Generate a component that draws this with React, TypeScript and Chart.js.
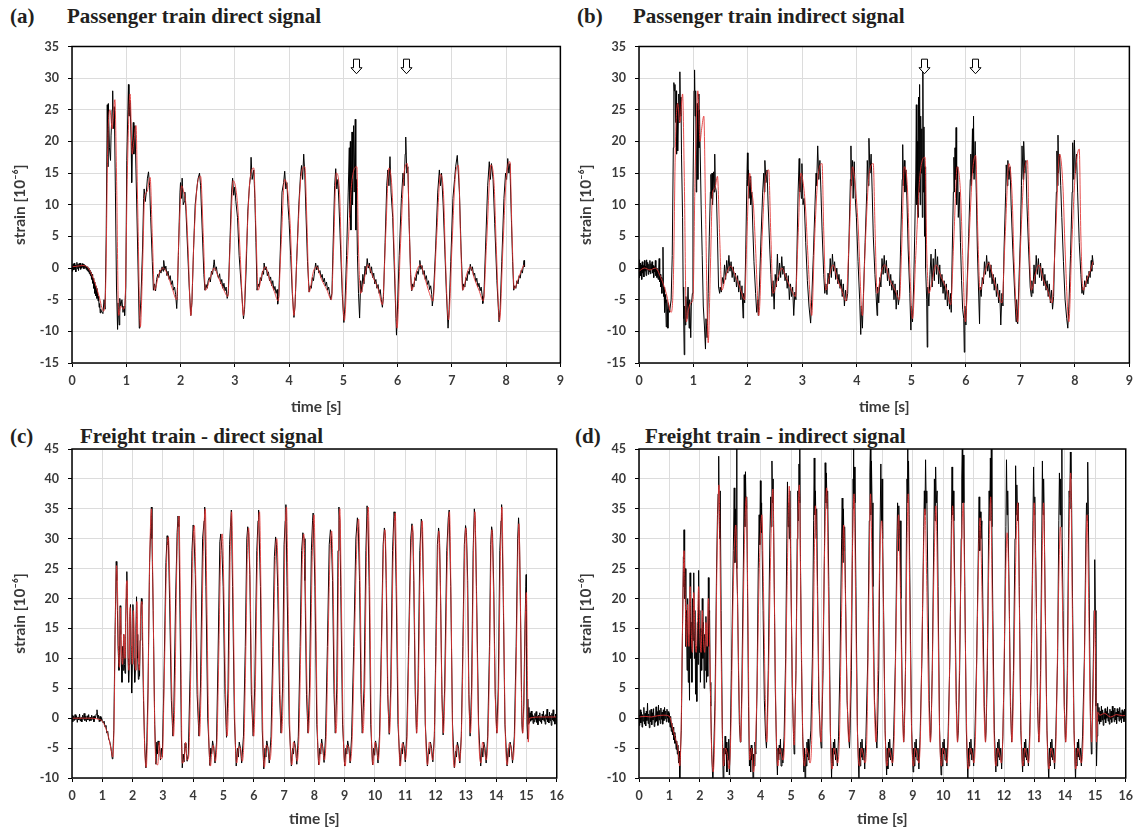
import React, { useEffect, useRef } from "react";
import { Chart, registerables } from "chart.js";

Chart.register(...registerables);

type Pt = [number, number];

// ---------- (a) Passenger train direct signal ----------
const aBlack: Pt[] = [
  [0,0.3],[0.01,-0.5],[0.02,0.6],[0.03,-0.3],[0.04,0.8],[0.05,-0.2],[0.06,0.5],[0.07,-0.6],[0.08,0.4],[0.09,0.9],[0.1,-0.1],[0.11,0.6],[0.12,-0.4],[0.13,0.7],[0.14,0.1],[0.15,0.8],[0.16,-0.2],[0.17,0.5],[0.18,0],[0.19,0.7],[0.2,0.2],[0.21,0.6],[0.22,-0.1],[0.23,0.5],[0.24,0.1],[0.25,0.4],[0.26,-0.2],[0.27,0.3],[0.28,-0.4],[0.29,0.2],[0.3,-0.6],[0.31,0],[0.32,-0.9],[0.33,-0.3],[0.34,-1.2],[0.35,-0.6],[0.36,-1.8],[0.37,-1],[0.38,-2.4],[0.39,-1.6],[0.4,-3.2],[0.41,-2.2],[0.42,-4],[0.43,-2.8],[0.44,-4.4],[0.45,-3.2],[0.46,-4.8],[0.47,-3.6],[0.48,-5.2],[0.49,-4.4],[0.5,-6.2],[0.51,-5.6],[0.52,-7.1],[0.53,-6.5],[0.54,-6.8],
  [0.57,-7.2],[0.59,-5],[0.61,-6.5],[0.63,5],[0.65,25.8],[0.66,16],[0.67,26],[0.69,19],[0.71,17],[0.72,21],[0.74,25],[0.75,28],[0.76,22],[0.78,25.5],[0.8,12],[0.82,-3],[0.84,-9.7],[0.85,-5.5],[0.87,-9],[0.88,-4.8],[0.9,-6],[0.92,-5],[0.94,-7],[0.96,-6],[0.97,-7.5],[0.99,-3],[1.01,17],[1.03,25],[1.04,29],[1.05,24],[1.07,26.5],[1.09,20],[1.1,13.5],[1.11,18],[1.13,23],[1.14,18],[1.16,22.5],[1.18,15],[1.21,3],[1.24,-9.5],[1.25,-8],[1.27,-5],[1.3,3],[1.32,11],[1.33,12.5],[1.35,10.5],[1.37,12],[1.39,14.2],[1.41,15.2],[1.43,13],[1.45,8],[1.48,1],[1.5,-3.5],[1.52,-2.5],[1.54,-3.6],
  [1.56,-1.8],[1.58,-1],[1.6,-1.5],[1.62,-0.3],[1.64,-0.8],[1.66,0.2],[1.68,-0.5],[1.69,1.2],[1.71,-0.3],[1.73,0.3],[1.75,-1.2],[1.77,-0.5],[1.79,-1.8],[1.81,-1.2],[1.83,-2.6],[1.85,-2],[1.87,-3.5],[1.89,-3],[1.91,-4.2],[1.93,-6.4],[1.94,-4.5],
  [1.96,2],[1.99,12],[2,13.5],[2.02,11],[2.03,14.2],[2.05,10],[2.07,10.5],[2.08,12],[2.1,9],[2.13,3],[2.16,-3],[2.19,-7.5],[2.21,-5.5],[2.24,3],[2.27,10],[2.3,12.5],[2.32,14],[2.35,15],[2.37,13],[2.4,6],[2.43,-1],[2.45,-3.5],[2.47,-2.6],
  [2.49,-3.2],[2.51,-2],[2.53,-1.5],[2.55,-2.2],[2.57,-0.5],[2.59,-1],[2.61,0.5],[2.62,1.3],[2.64,-0.4],[2.66,0.2],[2.68,-1],[2.7,-1.6],[2.72,-0.9],[2.74,-2.5],[2.76,-1.8],[2.78,-3.2],[2.8,-2.4],[2.82,-3.6],[2.84,-3],[2.86,-4.8],[2.88,-4],
  [2.91,4],[2.94,12],[2.96,14.2],[2.98,11.5],[3,12.8],[3.02,10.5],[3.05,8],[3.08,2],[3.12,-3],[3.16,-8],[3.18,-6.5],[3.21,0],[3.24,9],[3.27,13],[3.29,14.5],[3.3,17.5],[3.32,14],[3.35,15.5],[3.37,11],[3.39,4],[3.41,-3.5],[3.43,-2.5],
  [3.45,-3],[3.47,-1.5],[3.49,-2],[3.51,-0.5],[3.53,-1],[3.54,0.8],[3.56,-0.3],[3.58,0.2],[3.6,-1.2],[3.62,-0.6],[3.64,-2],[3.66,-1.4],[3.68,-2.8],[3.7,-2],[3.72,-3.5],[3.74,-2.9],[3.76,-4],[3.78,-3.4],[3.79,-5.7],[3.81,-4.5],
  [3.84,3],[3.87,12],[3.9,13.5],[3.92,15.3],[3.94,12.5],[3.96,13.5],[3.98,10],[4,7.5],[4.03,2],[4.06,-4],[4.09,-7.8],[4.11,-6],[4.14,1],[4.18,10],[4.21,14.5],[4.23,16.2],[4.25,14],[4.27,18],[4.29,15],[4.31,9],[4.34,1],[4.37,-3.8],[4.39,-2.8],
  [4.41,-3.2],[4.43,-1.5],[4.45,-2],[4.47,-0.6],[4.49,0.8],[4.51,-0.3],[4.53,0.4],[4.55,-0.8],[4.57,-0.4],[4.59,-1.5],[4.61,-1],[4.63,-2.2],[4.65,-1.6],[4.67,-2.8],[4.69,-2.2],[4.71,-3.5],[4.73,-3],[4.75,-4.2],[4.77,-5],[4.79,-4],
  [4.81,3],[4.84,13],[4.86,15.7],[4.88,12.5],[4.9,14],[4.92,10],[4.95,3],[4.98,-4],[5.01,-8.6],[5.03,-6],[5.06,2],[5.09,12],[5.11,19],[5.12,8],[5.13,20],[5.14,6],[5.16,21.5],[5.17,10],[5.19,22.5],[5.2,12],[5.22,23.5],[5.23,6],[5.24,14],[5.26,2],[5.28,-4],[5.3,-7.9],[5.32,-2],[5.34,-3.8],
  [5.36,-1],[5.38,-2.5],[5.4,0.3],[5.42,-1],[5.44,1.5],[5.46,0],[5.48,0.8],[5.5,-0.8],[5.52,0.2],[5.54,-1.5],[5.56,-0.8],[5.58,-2.5],[5.6,-1.8],[5.62,-3.2],[5.64,-2.6],[5.66,-4],[5.68,-3.4],[5.7,-5],[5.72,-6.2],[5.74,-4.5],
  [5.77,4],[5.8,13],[5.82,15.5],[5.84,13],[5.86,17.6],[5.88,12],[5.91,8],[5.94,0],[5.97,-8],[5.98,-10.6],[6,-6],[6.03,2],[6.07,11],[6.1,15],[6.12,13],[6.14,18],[6.15,20.7],[6.17,15],[6.19,16],[6.21,8],[6.24,-1],[6.26,-3.6],[6.28,-2.5],
  [6.3,-3],[6.32,-1.5],[6.34,-2],[6.36,-0.5],[6.38,-1],[6.4,0.2],[6.41,1.2],[6.43,-0.2],[6.45,0.4],[6.47,-1],[6.49,-0.4],[6.51,-1.8],[6.53,-1.2],[6.55,-2.6],[6.57,-2],[6.59,-3.4],[6.61,-2.8],[6.63,-4.2],[6.64,-6],[6.66,-4.5],
  [6.7,3],[6.74,12],[6.77,15.5],[6.79,13],[6.81,15],[6.84,10],[6.87,3],[6.9,-4],[6.93,-9.5],[6.95,-6.5],[6.98,1],[7.02,11],[7.05,14],[7.07,16],[7.1,17.8],[7.12,15],[7.14,12],[7.17,3],[7.2,-3.5],[7.22,-2.5],
  [7.24,-3],[7.26,-1.5],[7.28,-2],[7.3,-0.5],[7.32,-1],[7.34,0.6],[7.36,-0.4],[7.38,0.2],[7.4,-1.2],[7.42,-0.8],[7.44,-2.2],[7.46,-1.6],[7.48,-3],[7.5,-2.4],[7.52,-3.6],[7.54,-3],[7.56,-4.4],[7.57,-5.6],[7.59,-4.5],
  [7.62,3],[7.66,13],[7.69,16.8],[7.71,14],[7.73,16.5],[7.76,14],[7.79,7],[7.83,-2],[7.87,-8.5],[7.89,-6.5],[7.92,1],[7.96,11],[7.99,15],[8.01,14],[8.03,17.3],[8.05,15],[8.07,16.5],[8.09,10],[8.12,1],[8.14,-3.5],[8.16,-2.8],[8.18,-3.2],[8.2,-2],[8.22,-2.5],[8.24,-1.2],[8.26,-1.6],[8.28,-0.3],[8.3,-0.8],[8.32,0.5],[8.33,1.2],[8.34,0.2],
];
const aRed: Pt[] = [
  [0,0.2],[0.1,0.3],[0.2,0.4],[0.3,0],[0.4,-1.8],[0.5,-4.5],[0.58,-6.8],[0.62,-3],[0.66,20],[0.7,25],[0.74,22],[0.79,26.6],[0.82,15],[0.86,-7.5],[0.9,-6],[0.95,-6.5],[0.98,-5],[1.02,15],[1.07,27.5],[1.11,18],[1.14,20],[1.18,22.5],[1.21,10],[1.26,-9.3],[1.3,0],[1.34,11.5],[1.38,12],[1.44,14.3],[1.48,5],[1.52,-3.5],[1.6,-1],[1.68,0],[1.76,-1],[1.85,-3.3],[1.93,-5],[1.97,5],[2.02,13],[2.06,12],[2.1,10],[2.14,3],[2.19,-7.5],[2.25,5],[2.3,12.5],[2.37,14.5],[2.42,5],[2.46,-3.5],[2.55,-1.5],[2.62,0],[2.7,-1.5],[2.8,-3.5],[2.87,-4.5],[2.92,5],[2.97,13.8],[3.02,12.5],[3.06,9],[3.1,2],[3.16,-7.5],[3.22,4],[3.28,14],[3.35,15.8],[3.39,6],[3.43,-3.5],[3.5,-1],[3.56,0.2],[3.65,-2],[3.72,-3.5],[3.8,-5.2],[3.85,3],[3.92,14],[3.97,12.5],[4.02,7],[4.09,-7.5],[4.15,3],[4.22,14.5],[4.29,16],[4.33,7],[4.37,-3.8],[4.45,-0.5],[4.51,0.2],[4.6,-1.8],[4.7,-3.5],[4.78,-5],[4.82,3],[4.87,15],[4.93,12],[4.97,0],[5.02,-8.3],[5.08,2],[5.15,13],[5.25,16],[5.28,3],[5.32,-4],[5.38,-2],[5.45,0.5],[5.55,-1.5],[5.65,-3.5],[5.72,-5.8],[5.78,5],[5.84,15.8],[5.9,12],[5.94,2],[5.99,-9.5],[6.05,3],[6.12,15],[6.18,16.5],[6.22,5],[6.26,-3.5],[6.35,-0.5],[6.42,0.5],[6.5,-1.5],[6.58,-3.8],[6.65,-5.2],[6.72,5],[6.79,14.8],[6.85,11],[6.88,2],[6.94,-8.2],[7,3],[7.06,14],[7.12,16.2],[7.16,5],[7.2,-3.5],[7.28,-0.8],[7.34,0.2],[7.42,-1.8],[7.5,-3.5],[7.58,-5.2],[7.64,4],[7.72,16.3],[7.78,13],[7.82,3],[7.88,-8.3],[7.94,3],[8,14],[8.07,16.8],[8.11,5],[8.15,-3.3],[8.22,-1.8],[8.3,0],[8.33,0.5],
];
const aArrows = [5.23, 6.16];

// ---------- (b) Passenger train indirect signal ----------
const bBlack: Pt[] = [
  [0,1.3],[0.01,-1.5],[0.02,0.8],[0.03,-1.2],[0.04,0.5],[0.05,-1.8],[0.06,1],[0.07,-0.8],[0.08,0.4],[0.09,-1.4],[0.1,1.2],[0.11,-0.5],[0.12,0.3],[0.13,-1.2],[0.14,1.3],[0.15,-0.3],[0.16,0.9],[0.17,-1],[0.18,0.6],[0.19,-0.6],[0.2,1.2],[0.21,-0.9],[0.22,0.7],[0.23,-0.2],[0.24,1],[0.25,-0.8],[0.26,0.4],[0.27,-1.5],[0.28,0.2],[0.29,-0.6],[0.3,1.2],[0.31,-1.2],[0.32,0],[0.33,-1.5],[0.34,-0.3],[0.35,-1.8],[0.36,-0.6],[0.37,1.5],[0.38,-2.2],[0.39,-1],[0.4,-3],[0.41,-1.5],[0.42,-4],[0.43,-2],[0.44,3.3],[0.45,-4.5],[0.46,-3],[0.47,-7],[0.48,-4.2],[0.49,-5.5],[0.5,-9.3],[0.51,-5],[0.52,-6.5],[0.53,-9.5],[0.54,-5.5],[0.56,-7],
  [0.59,-5],[0.61,2],[0.63,19],[0.64,29.3],[0.65,28],[0.66,29],[0.67,23],[0.68,28],[0.69,18],[0.7,26],[0.71,18.5],[0.72,23],[0.73,27.5],[0.74,23],[0.75,31],[0.76,24],[0.77,27],[0.78,18],[0.8,8],[0.81,-3],[0.82,-8],[0.83,-13.7],[0.84,-6],[0.85,-9],[0.86,-4.5],[0.88,-8],[0.9,-3],[0.92,-9.5],[0.93,-5],[0.95,-11],[0.96,-6],[0.98,-4],[0.99,12],[1,20],[1.01,28],[1.02,31.3],[1.03,24],[1.04,28],[1.05,12],[1.06,18],[1.07,26],[1.08,14],[1.09,27.5],[1.1,19],[1.11,25],[1.12,20],[1.14,10],[1.16,2],[1.18,-6],[1.2,-9],[1.22,-12.8],[1.23,-8],[1.25,-11],[1.27,-4],[1.29,5],[1.31,12],[1.32,14.8],[1.33,11],[1.34,15],[1.35,10],[1.37,15.2],[1.38,12],[1.39,18],[1.4,13],[1.42,12],[1.44,5],[1.46,-3],[1.48,-4],[1.49,-3],
  [1.51,-3.8],[1.53,-1.5],[1.55,-2.5],[1.57,0.5],[1.59,-1.8],[1.61,1.2],[1.63,-0.8],[1.65,2],[1.67,-0.5],[1.69,1],[1.71,-1.5],[1.73,0.2],[1.75,-2.2],[1.77,-0.8],[1.79,-3],[1.81,-1.2],[1.83,-3.8],[1.85,-2],[1.87,-5],[1.89,-2.8],[1.91,-7.9],[1.92,-4],[1.94,-5.5],
  [1.96,3],[1.98,14],[1.99,18.2],[2,13],[2.01,15.5],[2.02,11],[2.04,14.5],[2.05,10],[2.07,12],[2.09,6],[2.11,1],[2.14,-4],[2.16,-7],[2.18,-5],[2.19,-7.5],[2.21,-3],[2.24,5],[2.27,12],[2.29,15],[2.3,12],[2.31,17],[2.33,13.5],[2.35,15.5],[2.37,10],[2.4,3],[2.42,-1],[2.44,-4.5],[2.46,-2],
  [2.48,-6.5],[2.5,-1],[2.52,-3],[2.54,2.2],[2.56,-2],[2.58,0.8],[2.6,-1.5],[2.62,1.8],[2.64,-1],[2.66,0.3],[2.68,-2],[2.7,-0.8],[2.72,-3.2],[2.74,-1.2],[2.76,-5],[2.78,-2.5],[2.8,-4.5],[2.82,-3],[2.84,-7.5],[2.86,-3.8],[2.88,-5],
  [2.9,3],[2.92,12],[2.94,17.3],[2.95,12],[2.96,14.5],[2.98,11],[2.99,16.5],[3.01,10],[3.03,11],[3.06,4],[3.09,-2],[3.12,-6],[3.15,-8.7],[3.17,-5],[3.2,2],[3.23,10],[3.25,15],[3.26,13],[3.28,19.3],[3.3,14],[3.32,17],[3.34,12],[3.36,6],[3.39,-1],[3.41,-4],[3.43,-2.5],
  [3.45,-4.2],[3.47,-0.8],[3.49,-2.5],[3.51,1.5],[3.53,-1.5],[3.55,2.2],[3.57,-0.5],[3.59,1],[3.61,-1.8],[3.63,0],[3.65,-2.5],[3.67,-1],[3.69,-3.2],[3.71,-1.8],[3.73,-4.5],[3.75,-2.5],[3.77,-6],[3.79,-3.5],[3.81,-5.2],[3.83,-4],
  [3.85,3],[3.88,14],[3.89,19.3],[3.9,13],[3.92,17],[3.93,11],[3.95,16.8],[3.97,11],[3.99,8],[4.02,1],[4.05,-5],[4.07,-10.5],[4.08,-6],[4.1,-9.5],[4.12,-4],[4.15,4],[4.18,12],[4.19,17],[4.21,13],[4.22,20.5],[4.24,15],[4.26,18],[4.28,12],[4.3,5],[4.33,-1],[4.35,-4],[4.37,-7.5],[4.38,-3],
  [4.4,-5.5],[4.42,-1.5],[4.44,-3],[4.46,1.5],[4.48,-1],[4.5,2],[4.52,-0.8],[4.54,1.2],[4.56,-2],[4.58,0],[4.6,-2.8],[4.62,-1],[4.64,-3.5],[4.66,-2],[4.68,-5],[4.7,-2.5],[4.72,-6.5],[4.74,-3.5],[4.76,-5.8],[4.78,-4.5],
  [4.8,3],[4.83,14],[4.84,19.5],[4.85,13],[4.87,17],[4.88,12],[4.9,15.5],[4.92,10],[4.94,3],[4.97,-4],[4.99,-9.8],[5,-6],[5.02,-8.5],[5.04,-3],[5.06,5],[5.08,15],[5.09,25.8],[5.1,10],[5.11,20],[5.12,8],[5.13,27],[5.14,12],[5.15,29],[5.16,10],[5.17,24],[5.18,15],[5.19,22],[5.2,8],[5.21,31],[5.22,12],[5.23,22.3],[5.24,5],[5.25,16],[5.26,0],[5.28,-5],[5.29,-12.5],[5.3,-3],[5.32,-6],
  [5.34,-1],[5.36,2.2],[5.38,-3],[5.4,1.5],[5.42,-2],[5.44,3],[5.46,-1],[5.48,1.8],[5.5,-2.5],[5.52,0.5],[5.54,-3],[5.56,-1],[5.58,-4],[5.6,-2],[5.62,-5],[5.64,-2.5],[5.66,-6],[5.68,-3.5],[5.7,-6.5],[5.72,-4],[5.73,-7],
  [5.75,3],[5.77,12],[5.78,17.5],[5.79,12],[5.8,19],[5.81,14],[5.82,22.2],[5.83,10],[5.85,16],[5.86,8],[5.88,12],[5.9,4],[5.92,-2],[5.94,-6.5],[5.96,-8],[5.97,-13.3],[5.98,-6],[6,-9],[6.02,-3],[6.05,5],[6.08,14],[6.09,18],[6.1,13],[6.12,22],[6.13,15],[6.14,24],[6.15,14],[6.17,20],[6.19,12],[6.21,3],[6.23,-3],[6.25,-8.8],[6.26,-3],
  [6.28,-4.5],[6.3,-1.5],[6.32,-2.5],[6.34,1],[6.36,-1],[6.38,2],[6.4,-0.5],[6.42,1],[6.44,-1.5],[6.46,0.5],[6.48,-2.5],[6.5,-1],[6.52,-3.5],[6.54,-1.5],[6.56,-4.5],[6.58,-2.5],[6.6,-5.5],[6.62,-3.5],[6.64,-9],[6.66,-4],[6.68,-6],
  [6.7,3],[6.73,12],[6.74,16.3],[6.76,13],[6.77,17],[6.79,14],[6.81,16],[6.83,10],[6.86,3],[6.89,-3],[6.92,-8.5],[6.93,-5],[6.95,-8.8],[6.97,-3],[7,5],[7.02,13],[7.03,19.3],[7.05,14],[7.06,20],[7.08,15],[7.1,17],[7.12,10],[7.15,3],[7.18,-3],[7.2,-4.5],[7.21,-2],
  [7.23,-4],[7.25,0.5],[7.27,-2.5],[7.29,2],[7.31,-1],[7.33,1.5],[7.35,-1.5],[7.37,0.8],[7.39,-2],[7.41,0],[7.43,-2.8],[7.45,-1],[7.47,-3.5],[7.49,-2],[7.51,-4.5],[7.53,-2.5],[7.55,-5.5],[7.57,-3.5],[7.59,-6.5],[7.61,-4.5],
  [7.63,3],[7.66,12],[7.67,18.5],[7.68,13],[7.69,21],[7.7,15],[7.72,18],[7.74,13],[7.76,8],[7.79,1],[7.82,-5],[7.85,-8],[7.87,-9.5],[7.89,-6],[7.92,2],[7.95,12],[7.96,19.8],[7.98,14],[7.99,20.2],[8.01,15],[8.03,18],[8.05,12],[8.08,4],[8.11,-1],[8.13,-4],[8.14,-3],[8.16,-4.2],[8.18,-2],[8.2,-3],[8.22,-1.2],[8.24,-2.5],[8.26,-0.5],[8.28,-1.5],[8.3,1.2],[8.31,-0.5],[8.32,2],[8.34,0.5],
];
const bRed: Pt[] = [
  [0,-0.5],[0.1,0],[0.2,-0.3],[0.3,0],[0.4,-1.5],[0.5,-4],[0.59,-7],[0.63,-2],[0.67,20],[0.71,26],[0.75,23],[0.8,27.5],[0.83,15],[0.87,-8.5],[0.91,-6.5],[0.95,-5.5],[0.99,-5],[1.03,15],[1.08,28],[1.12,20],[1.15,22],[1.19,24],[1.22,10],[1.27,-11.8],[1.31,0],[1.35,12],[1.39,12.5],[1.44,14.5],[1.48,5],[1.52,-3.5],[1.6,-1],[1.68,0.3],[1.76,-1],[1.85,-3],[1.94,-5],[1.98,5],[2.03,15],[2.07,12],[2.1,10],[2.14,3],[2.2,-7.5],[2.26,5],[2.31,13],[2.38,15.5],[2.42,5],[2.46,-4],[2.55,-1.5],[2.62,0],[2.7,-1.5],[2.8,-3.5],[2.87,-4.5],[2.92,5],[2.97,15],[3.02,13],[3.06,9],[3.1,2],[3.17,-7.5],[3.22,4],[3.28,14],[3.36,16.5],[3.39,6],[3.43,-3.5],[3.5,-1],[3.56,0.5],[3.65,-2],[3.72,-3.5],[3.8,-5.2],[3.85,3],[3.92,16],[3.97,13],[4.02,7],[4.1,-7.5],[4.15,3],[4.22,14.5],[4.3,16.5],[4.33,7],[4.37,-4],[4.45,-0.5],[4.51,0.5],[4.6,-1.8],[4.7,-3.5],[4.78,-5],[4.82,3],[4.87,16],[4.93,12],[4.97,0],[5.02,-8],[5.08,2],[5.15,14],[5.25,17.5],[5.28,3],[5.32,-4],[5.38,-2],[5.45,0.5],[5.55,-1.5],[5.65,-3.5],[5.72,-5.8],[5.78,5],[5.84,16],[5.9,12],[5.94,2],[5.99,-8.5],[6.05,3],[6.12,15],[6.18,17.8],[6.22,5],[6.26,-3.5],[6.35,-0.5],[6.42,0.8],[6.5,-1.5],[6.58,-3.8],[6.66,-5.5],[6.72,5],[6.79,16.5],[6.85,11],[6.88,2],[6.95,-8.5],[7,3],[7.06,14],[7.13,17],[7.16,5],[7.2,-3.5],[7.28,-0.8],[7.34,0.5],[7.42,-1.8],[7.5,-3.5],[7.58,-5.5],[7.64,4],[7.72,18],[7.78,13],[7.82,3],[7.89,-8.5],[7.94,3],[8,14],[8.08,18.8],[8.11,5],[8.15,-3.5],[8.22,-1.8],[8.3,0],[8.33,1],
];
const bArrows = [5.23, 6.16];

// ---------- (c) Freight train - direct signal ----------
const cBlack: Pt[] = [
  [0,0.5],[0.025,-0.6],[0.05,0.3],[0.075,-0.4],[0.1,0.6],[0.125,-0.2],[0.15,0.4],[0.175,-0.7],[0.2,0.2],[0.225,-0.3],[0.25,0.7],[0.275,-0.5],[0.3,0.1],[0.325,-0.6],[0.35,0.5],[0.375,-0.2],[0.4,0.8],[0.425,-0.4],[0.45,0.3],[0.475,-0.6],[0.5,0.4],[0.525,-0.3],[0.55,0.6],[0.575,-0.5],[0.6,0.2],[0.625,-0.4],[0.65,0.5],[0.675,-0.2],[0.7,0.3],[0.725,-0.6],[0.75,0.4],[0.775,0],[0.8,0.7],[0.825,1.4],[0.85,-0.1],[0.875,0.5],[0.9,-0.6],[0.925,0.3],[0.95,-0.5],[0.975,0.1],[1,-0.4],[1.03,-0.8],[1.06,-0.5],[1.09,-1.5],[1.12,-1.2],[1.15,-2.5],[1.18,-2.2],[1.21,-3.5],[1.24,-3.8],[1.27,-4.5],[1.3,-5.5],[1.33,-6.8],[1.35,-6],
  [1.38,-2],[1.42,14],[1.46,26.2],[1.48,23],[1.5,18],[1.52,12],[1.55,8],[1.57,11],[1.59,18.8],[1.61,14],[1.63,9],[1.65,6],[1.67,12],[1.69,8],[1.71,14],[1.73,9],[1.75,7.5],[1.77,16],[1.79,20],[1.81,24.5],[1.83,18],[1.85,10],[1.87,6],[1.89,9],[1.91,17],[1.93,19],[1.95,12],[1.97,4.2],[1.99,9],[2.01,19],[2.03,17],[2.05,10],[2.07,6],[2.09,8],[2.11,15],[2.13,20.3],[2.15,14],[2.17,10],[2.19,6.5],[2.21,9],[2.23,7],[2.25,13],[2.27,17],[2.29,20],[2.31,19],[2.33,12],[2.36,3],[2.4,-5],[2.44,-8.3],[2.47,-4],[2.51,5],[2.56,26],[2.6,32],[2.62,35.3],[2.64,30],[2.68,18],[2.73,-1],[2.77,-7.7],[2.8,-4],[2.82,-6],[2.84,-3.8],[2.87,-4.5],[2.9,-5.5],[2.92,-7],[2.95,-5],[2.98,-6.5],
  [3.03,5],[3.1,26],[3.14,30.5],[3.16,29],[3.18,30.3],[3.22,20],[3.28,3],[3.33,-3],[3.36,1],[3.42,20],[3.47,31],[3.5,33.8],[3.53,32],[3.57,15],[3.61,-3],[3.64,-8.3],[3.67,-6],[3.7,-7.3],[3.73,-4.2],[3.76,-5],[3.8,-7.2],[3.84,-6],
  [3.9,8],[3.96,28],[4,32.3],[4.03,30],[4.07,24],[4.13,4],[4.19,-3],[4.24,5],[4.31,30],[4.36,33],[4.38,35.3],[4.42,22],[4.48,0],[4.55,-7.9],[4.58,-5],[4.61,-6],[4.64,-3.8],[4.68,-5],[4.72,-7.5],[4.77,-4],
  [4.82,10],[4.88,29.5],[4.91,30.8],[4.95,28],[4.99,22],[5.05,4],[5.1,-3.2],[5.15,5],[5.2,29],[5.23,32],[5.26,34.8],[5.3,22],[5.36,0],[5.42,-8],[5.46,-5],[5.49,-6.5],[5.52,-4],[5.56,-5],[5.6,-7.5],[5.66,-3],
  [5.72,12],[5.77,30],[5.8,32],[5.83,31],[5.87,24],[5.92,4],[5.98,-3],[6.03,5],[6.1,28],[6.14,33],[6.16,34.8],[6.22,22],[6.28,-2],[6.33,-8.5],[6.37,-5],[6.4,-6.5],[6.43,-3.8],[6.47,-5],[6.51,-7.5],[6.57,-3],
  [6.63,12],[6.68,27],[6.72,30.3],[6.75,29],[6.79,22],[6.85,4],[6.9,-2.5],[6.95,5],[7,29],[7.04,33],[7.06,35.7],[7.1,22],[7.17,-1],[7.24,-8],[7.28,-5],[7.31,-6],[7.34,-3.8],[7.38,-5],[7.42,-7.7],[7.47,-3],
  [7.53,12],[7.58,28],[7.62,31],[7.66,30],[7.69,23],[7.74,4],[7.79,-2.5],[7.84,5],[7.9,28],[7.94,33],[7.96,34.3],[8.02,22],[8.08,-1],[8.14,-7.8],[8.18,-5],[8.21,-6],[8.24,-3.5],[8.28,-5],[8.32,-7.4],[8.37,-3],
  [8.43,12],[8.49,29],[8.53,31.5],[8.56,30.5],[8.6,23],[8.65,4],[8.69,-2.5],[8.74,5],[8.78,28],[8.81,35.3],[8.84,33],[8.87,22],[8.93,-1],[9,-8],[9.04,-5],[9.07,-6],[9.1,-3.8],[9.14,-5],[9.18,-7.5],[9.23,-3],
  [9.3,12],[9.37,30],[9.42,33.5],[9.45,32],[9.49,23],[9.54,4],[9.58,-2.5],[9.64,5],[9.7,28],[9.74,35.5],[9.77,33],[9.81,22],[9.86,-1],[9.92,-7.8],[9.96,-5],[9.99,-6.2],[10.02,-3.8],[10.06,-5],[10.1,-7.5],[10.15,-3],
  [10.21,12],[10.27,29],[10.31,31.8],[10.34,30.5],[10.37,23],[10.42,4],[10.47,-2.7],[10.52,5],[10.58,28],[10.63,34.5],[10.66,33],[10.7,22],[10.76,-1],[10.83,-8],[10.87,-5],[10.9,-6],[10.93,-4],[10.97,-5],[11,-7.3],[11.05,-3],
  [11.11,12],[11.18,30],[11.22,32.5],[11.25,31],[11.28,23],[11.33,4],[11.37,-2.5],[11.42,5],[11.48,28],[11.53,33.3],[11.56,32],[11.6,22],[11.66,-1],[11.73,-8],[11.77,-5],[11.8,-6],[11.83,-4],[11.87,-5],[11.91,-7.3],[11.96,-3],
  [12.01,12],[12.06,29],[12.1,31.8],[12.13,30],[12.16,22],[12.21,4],[12.25,-2.8],[12.3,5],[12.37,28],[12.42,33.5],[12.45,34.8],[12.5,22],[12.56,-1],[12.62,-8.3],[12.66,-5.5],[12.69,-6.5],[12.72,-4],[12.76,-5],[12.8,-7.5],[12.85,-3],
  [12.9,12],[12.95,29],[12.99,32.2],[13.02,31],[13.06,23],[13.1,4],[13.14,-3],[13.19,5],[13.24,28],[13.28,35],[13.31,33],[13.35,22],[13.42,-1],[13.49,-8],[13.53,-5],[13.56,-6.5],[13.59,-4],[13.63,-5],[13.67,-7.5],[13.72,-3],
  [13.78,12],[13.82,29],[13.85,32],[13.88,31],[13.92,22],[13.97,4],[14.02,-2.5],[14.07,5],[14.12,28],[14.16,33],[14.18,35.7],[14.23,22],[14.29,-1],[14.36,-8],[14.4,-5],[14.43,-6.5],[14.46,-4],[14.5,-5],[14.54,-7.5],[14.6,-3],
  [14.66,12],[14.71,30],[14.74,33.5],[14.77,30],[14.81,15],[14.85,-1],[14.87,-2.5],[14.91,2],[14.95,15],[14.98,22],[14.99,24],[15,12],[15.02,-1],[15.04,-3.5],[15.05,3.2],[15.06,-1],[15.08,1.8],
  [15.1,-0.8],[15.12,0.9],[15.14,-0.5],[15.16,1.2],[15.18,-0.3],[15.2,0.6],[15.22,-0.9],[15.24,0.4],[15.26,-0.6],[15.28,0.8],[15.3,-0.2],[15.32,1.1],[15.34,-0.7],[15.36,0.3],[15.38,-1.1],[15.4,0.5],[15.42,-0.4],[15.44,0.9],[15.46,-0.6],[15.48,0.2],[15.5,-0.9],[15.52,0.7],[15.54,-0.3],[15.56,1.2],[15.58,-0.5],[15.6,0.4],[15.62,-1],[15.64,0.6],[15.66,-0.2],[15.68,1.5],[15.7,-0.6],[15.72,0.3],[15.74,-0.8],[15.76,1],[15.78,-0.4],[15.8,0.5],[15.82,-1.2],[15.84,0.8],[15.86,-0.3],[15.88,1.4],[15.9,-0.5],[15.92,0.2],[15.94,-1],[15.96,0.7],[15.98,-0.6],[16,0.3],
];
const cRed: Pt[] = [
  [0,0],[0.5,0],[0.9,-0.2],[1,-0.5],[1.1,-1.5],[1.2,-3],[1.3,-5.5],[1.34,-6.5],[1.38,-3],[1.43,15],[1.47,25.5],[1.5,22],[1.53,12],[1.57,8.5],[1.6,18.5],[1.63,12],[1.67,9],[1.71,14],[1.75,10],[1.79,22],[1.82,23],[1.85,11],[1.88,8],[1.92,18.5],[1.95,14],[1.99,9],[2.03,18],[2.07,10],[2.11,8],[2.14,19.5],[2.18,12],[2.22,8],[2.27,18],[2.31,19.5],[2.35,8],[2.4,-5],[2.45,-8.2],[2.5,0],[2.56,25],[2.62,35],[2.67,22],[2.72,2],[2.77,-7.5],[2.83,-7.8],[2.88,-4],[2.93,-6.8],[2.98,-6.5],[3.05,8],[3.12,26],[3.18,30.3],[3.23,22],[3.29,5],[3.35,-3],[3.4,5],[3.46,26],[3.53,33.8],[3.58,18],[3.64,-7.5],[3.7,-7],[3.75,-4],[3.8,-7],[3.85,-6.5],[3.92,8],[3.98,27],[4.04,32.2],[4.09,22],[4.15,5],[4.21,-3],[4.26,5],[4.33,27],[4.4,35],[4.45,20],[4.51,-2],[4.57,-8],[4.62,-5.5],[4.67,-4.5],[4.73,-7.2],[4.79,-3],[4.85,12],[4.91,28],[4.96,30.8],[5.01,22],[5.07,4],[5.12,-3],[5.17,5],[5.22,27],[5.27,34.5],[5.32,20],[5.38,-2],[5.44,-7.5],[5.5,-4.8],[5.56,-5],[5.62,-7.2],[5.68,-3],[5.74,12],[5.79,28],[5.83,31.8],[5.88,22],[5.94,4],[6,-3],[6.05,5],[6.12,27],[6.19,34.5],[6.24,20],[6.3,-3],[6.35,-8.2],[6.41,-4.5],[6.47,-5],[6.53,-7],[6.59,-3],[6.65,12],[6.71,27],[6.76,30],[6.81,22],[6.87,4],[6.92,-2.5],[6.97,5],[7.02,27],[7.08,35.3],[7.13,20],[7.19,-2],[7.26,-7.8],[7.31,-4],[7.37,-4.8],[7.43,-7.2],[7.49,-3],[7.55,12],[7.61,28],[7.65,30.8],[7.7,22],[7.76,4],[7.8,-2.5],[7.86,5],[7.93,27],[7.99,34],[8.04,20],[8.1,-2],[8.16,-7.8],[8.22,-4.2],[8.27,-4.8],[8.33,-7],[8.39,-3],[8.45,12],[8.52,28],[8.57,31.3],[8.62,22],[8.67,4],[8.71,-2.5],[8.76,5],[8.8,27],[8.84,35],[8.89,20],[8.95,-2],[9.02,-8],[9.07,-4.5],[9.13,-4.8],[9.19,-7.2],[9.25,-3],[9.32,12],[9.4,29],[9.46,33.3],[9.51,22],[9.56,4],[9.6,-2.5],[9.66,5],[9.72,27],[9.78,35.3],[9.83,20],[9.88,-2],[9.94,-7.8],[10,-4],[10.05,-4.8],[10.11,-7],[10.16,-3],[10.22,12],[10.28,28],[10.33,31.5],[10.38,22],[10.43,4],[10.48,-2.5],[10.53,5],[10.6,27],[10.67,34.3],[10.72,20],[10.78,-2],[10.84,-8],[10.9,-4.2],[10.95,-4.8],[11,-7],[11.06,-3],[11.12,12],[11.19,28],[11.24,32.2],[11.29,22],[11.34,4],[11.38,-2.5],[11.43,5],[11.5,27],[11.56,33],[11.61,20],[11.67,-2],[11.74,-7.8],[11.79,-4],[11.84,-4.6],[11.9,-7],[11.96,-3],[12.02,12],[12.07,27],[12.11,31.3],[12.16,22],[12.21,4],[12.26,-2.5],[12.31,5],[12.39,27],[12.46,34.5],[12.51,20],[12.56,-2],[12.63,-8.2],[12.69,-4.5],[12.74,-5],[12.79,-7.2],[12.85,-3],[12.91,12],[12.96,28],[13,31.8],[13.05,22],[13.1,4],[13.15,-2.5],[13.2,5],[13.25,27],[13.3,34.5],[13.35,20],[13.42,-2],[13.5,-7.5],[13.55,-4],[13.6,-4.8],[13.67,-7],[13.73,-3],[13.79,12],[13.83,28],[13.86,31.5],[13.91,22],[13.97,4],[14.03,-2.5],[14.08,5],[14.14,27],[14.19,35.3],[14.24,20],[14.3,-2],[14.37,-7.8],[14.43,-4.2],[14.49,-4.8],[14.55,-7],[14.61,-3],[14.67,12],[14.72,28],[14.75,32.5],[14.8,20],[14.84,2],[14.88,-2.5],[14.93,5],[14.97,18],[15,21],[15.03,8],[15.06,-4],[15.1,0],[15.5,0.2],[16,0.2],
];

// ---------- (d) Freight train - indirect signal ----------
const dBlack: Pt[] = [
  [0,0.5],[0.02,-1.2],[0.04,1.4],[0.06,-0.8],[0.08,1],[0.1,-1.5],[0.12,0.6],[0.14,-0.5],[0.16,1.8],[0.18,-1],[0.2,0.8],[0.22,-1.3],[0.24,1.2],[0.26,-0.4],[0.28,2.5],[0.3,-0.9],[0.32,0.7],[0.34,-1.6],[0.36,1.3],[0.38,-0.6],[0.4,1.5],[0.42,-1.1],[0.44,0.9],[0.46,-0.3],[0.48,1.6],[0.5,-1.4],[0.52,0.4],[0.54,-0.7],[0.56,1.9],[0.58,-0.5],[0.6,1.1],[0.62,-1.2],[0.64,2.2],[0.66,-0.3],[0.68,1.3],[0.7,-0.9],[0.72,1.7],[0.74,-0.2],[0.76,1],[0.78,-1],[0.8,1.4],[0.82,-0.4],[0.84,1.8],[0.86,-0.1],[0.88,1.2],[0.9,-0.6],[0.92,1.5],[0.94,0],[0.96,1.1],[0.98,-0.7],[1,0.8],[1.02,-1.5],[1.04,0.3],[1.06,-2.2],[1.08,-0.8],[1.1,-2.8],[1.12,-1.5],[1.14,-3.6],[1.16,-2.4],[1.18,-4.2],[1.2,-3],[1.22,-5.2],[1.24,-3.8],[1.26,-6],[1.28,-4.5],[1.3,-7.5],[1.32,-5.5],[1.34,-10.5],[1.36,-6],
  [1.39,-2],[1.43,15],[1.46,27],[1.47,22],[1.48,31.5],[1.5,20],[1.52,25],[1.54,12],[1.56,18],[1.58,8],[1.6,20],[1.62,6],[1.64,14],[1.66,3],[1.68,24.3],[1.7,10],[1.72,16],[1.74,6],[1.76,20],[1.78,13],[1.8,24.3],[1.82,10],[1.84,18],[1.86,4],[1.88,12],[1.9,2.8],[1.92,16],[1.94,9],[1.96,24.7],[1.98,11],[2,18],[2.02,6],[2.04,15],[2.06,8],[2.08,20],[2.1,10],[2.12,16],[2.14,5],[2.16,14],[2.18,8],[2.2,17],[2.22,6],[2.24,12],[2.26,7],[2.28,23.5],[2.3,12],[2.32,18],[2.34,6],[2.36,2],[2.39,-6],[2.43,-11],[2.46,-5],[2.5,3],[2.55,25],[2.58,34],[2.6,37.5],[2.62,43.8],[2.63,36],[2.65,30],[2.67,38],[2.7,18],[2.74,-2],[2.77,-11],[2.79,-5],[2.81,-8],[2.83,-3],[2.85,-6],[2.87,-4],[2.89,-9],[2.91,-5],[2.93,-7],[2.95,-3.5],[2.97,-9.5],[3,-4],
  [3.04,8],[3.1,28],[3.13,38.5],[3.15,26],[3.17,35],[3.19,30],[3.21,47],[3.22,25],[3.24,20],[3.27,8],[3.3,-1],[3.33,-4],[3.35,-3],[3.38,5],[3.43,25],[3.46,40.7],[3.48,32],[3.5,41.2],[3.52,35],[3.54,37],[3.57,20],[3.6,2],[3.63,-8],[3.65,-5],[3.67,-9],[3.69,-4.5],[3.71,-7],[3.73,-5],[3.75,-11],[3.77,-6],[3.79,-8],[3.81,-4],[3.84,-6],
  [3.88,5],[3.92,25],[3.95,34],[3.97,29],[3.99,39.7],[4.01,31],[4.03,36],[4.05,28],[4.08,18],[4.12,3],[4.16,-3],[4.19,-5],[4.21,-2],[4.25,8],[4.3,30],[4.33,37],[4.35,32],[4.37,43],[4.39,36],[4.41,40],[4.44,25],[4.48,5],[4.52,-5],[4.55,-9.5],[4.57,-5],[4.59,-7],[4.61,-4.5],[4.63,-6],[4.65,-3.5],[4.67,-8],[4.7,-5],[4.73,-7.5],[4.77,-3],
  [4.82,10],[4.86,30],[4.88,39.5],[4.9,32],[4.92,36],[4.94,30],[4.96,38],[4.99,25],[5.04,5],[5.08,-3],[5.1,-6],[5.12,-2],[5.16,8],[5.2,30],[5.22,38],[5.24,33],[5.26,42.5],[5.28,36],[5.29,47],[5.3,30],[5.34,10],[5.38,-3],[5.42,-9],[5.44,-5],[5.46,-10.5],[5.48,-6],[5.5,-8],[5.52,-4],[5.54,-6.5],[5.56,-3.5],[5.58,-7],[5.61,-5],[5.65,-2],
  [5.7,10],[5.74,33],[5.76,43.5],[5.78,34],[5.8,38],[5.82,30],[5.84,35],[5.87,22],[5.91,3],[5.96,-3],[5.99,-5],[6.01,-2],[6.05,8],[6.1,30],[6.12,42.7],[6.14,36],[6.16,41],[6.18,35],[6.2,38],[6.24,22],[6.29,-2],[6.33,-10],[6.35,-5],[6.37,-8],[6.39,-4],[6.41,-6],[6.43,-3.5],[6.46,-7],[6.49,-5],[6.52,-8],[6.56,-3],
  [6.61,10],[6.66,30],[6.68,36.8],[6.7,26],[6.72,35],[6.74,28],[6.76,32],[6.79,20],[6.84,3],[6.89,-3],[6.92,-5],[6.94,-2],[6.98,8],[7.02,30],[7.04,40],[7.05,47],[7.06,35],[7.08,42],[7.1,36],[7.13,22],[7.18,-2],[7.23,-10.5],[7.25,-5],[7.27,-8],[7.29,-4],[7.31,-6.5],[7.33,-3.5],[7.36,-7],[7.39,-5],[7.42,-8.5],[7.46,-3],
  [7.52,10],[7.57,33],[7.59,41],[7.61,47],[7.62,34],[7.64,43],[7.66,36],[7.69,22],[7.74,3],[7.79,-3],[7.82,-5],[7.84,-2],[7.88,8],[7.92,30],[7.95,42.5],[7.97,33],[7.99,40],[8.01,30],[8.04,18],[8.09,-2],[8.14,-9.5],[8.16,-5],[8.18,-8.5],[8.2,-4],[8.22,-6.5],[8.24,-3.5],[8.27,-7],[8.3,-5],[8.33,-8],[8.37,-3],
  [8.43,10],[8.48,30],[8.5,36],[8.52,28],[8.54,35.5],[8.56,30],[8.58,33],[8.61,20],[8.66,2],[8.7,-4],[8.72,-2],[8.76,8],[8.79,30],[8.81,40],[8.83,47],[8.84,36],[8.86,43],[8.88,34],[8.91,20],[8.96,-2],[9.01,-9],[9.03,-5],[9.05,-8],[9.07,-4],[9.09,-6.5],[9.11,-3.5],[9.14,-7],[9.17,-5],[9.2,-8.5],[9.24,-3],
  [9.3,10],[9.36,32],[9.38,38],[9.4,34],[9.42,43.2],[9.44,36],[9.46,38],[9.49,25],[9.54,3],[9.58,-4],[9.6,-2],[9.64,8],[9.69,30],[9.71,40],[9.73,33],[9.75,42],[9.77,36],[9.8,38],[9.83,22],[9.88,-2],[9.93,-9.5],[9.95,-5],[9.97,-8],[9.99,-4],[10.01,-6],[10.03,-3.5],[10.06,-7],[10.09,-5],[10.12,-8],[10.16,-3],
  [10.22,10],[10.27,33],[10.29,42],[10.31,34],[10.33,38],[10.35,33],[10.38,22],[10.43,3],[10.47,-4],[10.5,-2],[10.54,8],[10.59,30],[10.61,40],[10.63,47],[10.64,36],[10.66,44],[10.68,36],[10.71,22],[10.76,-2],[10.81,-10.5],[10.83,-5],[10.85,-8],[10.87,-4],[10.89,-6],[10.91,-3.5],[10.94,-7],[10.97,-5],[11,-8],[11.04,-3],
  [11.1,10],[11.16,30],[11.18,37],[11.2,28],[11.22,34.5],[11.24,30],[11.27,33],[11.3,20],[11.35,2],[11.39,-4],[11.41,-2],[11.45,8],[11.49,30],[11.51,38],[11.53,33],[11.55,43.5],[11.57,36],[11.58,47],[11.6,32],[11.63,18],[11.68,-2],[11.73,-9],[11.75,-5],[11.77,-8],[11.79,-4],[11.81,-6.5],[11.83,-3.5],[11.86,-7],[11.89,-5],[11.92,-8.5],[11.96,-3],
  [12.01,10],[12.06,32],[12.08,43.2],[12.1,34],[12.12,38],[12.14,30],[12.17,20],[12.21,2],[12.25,-4],[12.27,-2],[12.31,8],[12.36,30],[12.38,42.2],[12.4,34],[12.42,39],[12.44,33],[12.47,36],[12.5,22],[12.55,-2],[12.61,-9],[12.63,-5],[12.65,-8],[12.67,-4],[12.69,-6.5],[12.71,-3.5],[12.74,-7],[12.77,-5],[12.8,-8],[12.84,-3],
  [12.9,10],[12.95,33],[12.97,42],[12.99,34],[13.01,37],[13.03,30],[13.06,20],[13.1,2],[13.14,-4],[13.16,-2],[13.2,8],[13.24,30],[13.26,43],[13.28,34],[13.3,40],[13.32,33],[13.35,20],[13.41,-2],[13.47,-10.5],[13.49,-5],[13.51,-8],[13.53,-4],[13.55,-6.5],[13.57,-3.5],[13.6,-7],[13.63,-5],[13.66,-8.5],[13.7,-3],
  [13.76,10],[13.8,33],[13.82,41],[13.84,34],[13.86,40],[13.88,32],[13.9,47],[13.91,30],[13.94,18],[13.98,2],[14.02,-4],[14.04,-2],[14.08,8],[14.12,30],[14.14,38],[14.16,35],[14.18,44.5],[14.2,40],[14.22,36],[14.25,20],[14.3,-2],[14.35,-10.5],[14.37,-5],[14.39,-8],[14.41,-4],[14.43,-6.5],[14.45,-3.5],[14.48,-7],[14.51,-5],[14.54,-8],[14.58,-3],
  [14.64,10],[14.69,30],[14.71,36],[14.73,33],[14.75,42.8],[14.77,34],[14.8,20],[14.84,0],[14.87,-6],[14.89,-2],[14.92,5],[14.96,18],[14.98,26.5],[15,18],[15.02,2],[15.04,-8],[15.06,-3],[15.08,2.5],
  [15.1,-0.5],[15.12,1.8],[15.14,-1],[15.16,1.2],[15.18,-0.6],[15.2,2],[15.22,-0.3],[15.24,1.4],[15.26,-1.2],[15.28,0.9],[15.3,-0.2],[15.32,1.6],[15.34,-0.8],[15.36,1.1],[15.38,0],[15.4,1.9],[15.42,-0.5],[15.44,0.8],[15.46,-1],[15.48,1.5],[15.5,-0.2],[15.52,1.2],[15.54,-0.7],[15.56,2],[15.58,0.1],[15.6,1.3],[15.62,-0.6],[15.64,1.7],[15.66,-0.3],[15.68,1],[15.7,-0.9],[15.72,1.6],[15.74,0.2],[15.76,1.2],[15.78,-0.5],[15.8,1.8],[15.82,-0.2],[15.84,0.9],[15.86,-0.8],[15.88,1.4],[15.9,0],[15.92,1.1],[15.94,-0.6],[15.96,1.5],[15.98,-0.3],[16,0.8],
];
const dRed: Pt[] = [
  [0,0.2],[0.2,0.3],[0.4,0.2],[0.6,0.4],[0.8,0.5],[1,0.3],[1.1,-1.5],[1.2,-3.5],[1.28,-5],[1.34,-8],[1.38,-3],[1.43,15],[1.48,28],[1.52,20],[1.56,12],[1.6,19],[1.64,12],[1.68,22],[1.72,14],[1.76,11],[1.8,21],[1.84,14],[1.88,11],[1.92,16],[1.96,22],[2,14],[2.04,11],[2.08,18],[2.12,13],[2.16,11],[2.2,16],[2.24,12],[2.28,20],[2.33,10],[2.38,-4],[2.44,-9],[2.5,0],[2.56,25],[2.63,39],[2.68,20],[2.73,0],[2.78,-8],[2.84,-5],[2.9,-6],[2.96,-8.5],[3.02,-2],[3.1,22],[3.18,32.3],[3.23,22],[3.29,4],[3.34,-4],[3.39,5],[3.46,28],[3.53,37],[3.58,18],[3.64,-7],[3.7,-5],[3.76,-9],[3.82,-5.5],[3.88,5],[3.96,26],[4.04,34],[4.09,22],[4.15,4],[4.2,-4],[4.25,5],[4.33,28],[4.4,38.3],[4.45,20],[4.51,-2],[4.57,-8],[4.62,-5],[4.68,-6],[4.73,-7],[4.79,-3],[4.86,20],[4.94,38.8],[4.99,24],[5.05,4],[5.1,-4.5],[5.15,5],[5.21,28],[5.27,39],[5.32,20],[5.38,-2],[5.44,-8],[5.5,-5],[5.56,-6],[5.62,-7.5],[5.68,-3],[5.74,18],[5.8,35.5],[5.86,22],[5.92,4],[5.98,-4],[6.03,5],[6.1,28],[6.17,38.5],[6.23,20],[6.29,-2],[6.35,-8.5],[6.41,-5],[6.47,-6],[6.53,-7.5],[6.59,-3],[6.66,18],[6.73,32.3],[6.78,22],[6.84,4],[6.9,-4],[6.95,5],[7.01,26],[7.07,37.5],[7.12,20],[7.18,-2],[7.25,-8],[7.31,-5],[7.37,-6],[7.43,-7.5],[7.49,-3],[7.55,18],[7.61,37.5],[7.67,22],[7.73,4],[7.79,-4],[7.84,5],[7.91,26],[7.98,33],[8.03,20],[8.09,-2],[8.15,-8],[8.21,-5],[8.27,-6],[8.33,-7.5],[8.39,-3],[8.46,18],[8.53,34],[8.59,22],[8.65,4],[8.7,-4],[8.75,5],[8.8,26],[8.85,37.5],[8.9,20],[8.96,-2],[9.02,-8],[9.08,-5],[9.14,-6],[9.2,-7.5],[9.25,-3],[9.32,18],[9.4,35],[9.46,22],[9.52,4],[9.58,-4],[9.63,5],[9.7,26],[9.76,35.5],[9.82,20],[9.88,-2],[9.94,-8],[10,-5],[10.06,-6],[10.12,-7.5],[10.17,-3],[10.24,18],[10.31,35.5],[10.37,22],[10.42,4],[10.47,-4],[10.52,5],[10.59,26],[10.66,36],[10.71,20],[10.77,-2],[10.83,-8.5],[10.89,-5],[10.95,-6],[11.01,-7.5],[11.06,-3],[11.13,18],[11.21,33.5],[11.27,22],[11.33,4],[11.39,-4],[11.43,5],[11.5,26],[11.56,37],[11.61,20],[11.67,-2],[11.73,-8],[11.79,-5],[11.85,-6],[11.91,-7.5],[11.96,-3],[12.03,18],[12.1,31],[12.16,22],[12.21,4],[12.26,-4],[12.31,5],[12.38,26],[12.45,36],[12.5,20],[12.56,-2],[12.62,-8],[12.68,-5],[12.74,-6],[12.8,-7.5],[12.85,-3],[12.92,18],[12.99,36],[13.05,22],[13.1,4],[13.15,-4],[13.2,5],[13.25,26],[13.3,36],[13.35,20],[13.41,-2],[13.48,-8.5],[13.54,-5],[13.6,-6],[13.66,-7.5],[13.71,-3],[13.78,18],[13.85,32],[13.91,22],[13.97,4],[14.03,-4],[14.08,5],[14.13,28],[14.19,41],[14.24,20],[14.3,-2],[14.36,-8.5],[14.42,-5],[14.48,-6],[14.54,-7.5],[14.6,-3],[14.67,18],[14.73,34],[14.78,20],[14.83,2],[14.88,-4],[14.93,5],[14.98,18],[15.01,10],[15.04,-4],[15.08,1],[15.15,0.5],[15.3,0.8],[15.5,0.2],[15.7,0.6],[15.9,0.4],[16,0.5],
];

// axis ranges / labels
const passengerX = { min: 0, max: 9 };
const passengerY = { min: -15, max: 35 };
const freightX = { min: 0, max: 16 };
const freightY = { min: -10, max: 45 };
const arrowTopValue = 33;
const arrowTipValue = 30.7;
const xTitle = "time [s]";
const yTitle = "strain [10\u207B\u2076]";

const TICK_FONT = { family: "Lato, 'Open Sans', sans-serif", weight: "bold" as const, size: 12.5 };
const TITLE_FONT = { family: "Lato, 'Open Sans', sans-serif", weight: "bold" as const, size: 15.5 };
const AXIS_COLOR = "#3a3a3a";

const framePlugin = {
  id: "frame",
  afterDatasetsDraw(chart: any) {
    const { ctx, chartArea: a } = chart;
    ctx.save();
    ctx.strokeStyle = "#000";
    ctx.lineWidth = 1.5;
    ctx.strokeRect(a.left, a.top, a.right - a.left, a.bottom - a.top);
    ctx.restore();
  },
};

const arrowPlugin = {
  id: "arrows",
  afterDatasetsDraw(chart: any, _args: any, opts: any) {
    const times: number[] = (opts && opts.times) || [];
    if (!times.length) return;
    const { ctx } = chart;
    const xs = chart.scales.x;
    const ys = chart.scales.y;
    const yTop = ys.getPixelForValue(opts.top);
    const yTip = ys.getPixelForValue(opts.tip);
    ctx.save();
    ctx.fillStyle = "#fff";
    ctx.strokeStyle = "#000";
    ctx.lineWidth = 1;
    for (const t of times) {
      const x = Math.round(xs.getPixelForValue(t)) + 0.5;
      const headH = 6;
      ctx.beginPath();
      ctx.moveTo(x - 3, yTop);
      ctx.lineTo(x + 3, yTop);
      ctx.lineTo(x + 3, yTip - headH);
      ctx.lineTo(x + 5.5, yTip - headH);
      ctx.lineTo(x, yTip);
      ctx.lineTo(x - 5.5, yTip - headH);
      ctx.lineTo(x - 3, yTip - headH);
      ctx.closePath();
      ctx.fill();
      ctx.stroke();
    }
    ctx.restore();
  },
};

type PanelProps = {
  left: number; top: number; width: number; height: number;
  plotL: number; plotR: number; plotT: number; plotB: number;
  black: Pt[]; red: Pt[];
  xr: { min: number; max: number }; yr: { min: number; max: number };
  arrows?: number[];
  yTitlePad: number; xTitlePad: number;
};

function Panel(p: PanelProps) {
  const ref = useRef<HTMLCanvasElement>(null);
  useEffect(() => {
    if (!ref.current) return;
    const yAxisW = p.plotL - p.left;
    const xAxisH = p.top + p.height - p.plotB;
    const grid = { color: "#dcdcdc", drawTicks: true, tickLength: 4, tickColor: "#000", tickWidth: 1 };
    const chart = new Chart(ref.current, {
      type: "line",
      data: {
        datasets: [
          {
            data: p.red.map(([x, y]) => ({ x, y })),
            borderColor: "rgba(226,52,52,0.88)",
            borderWidth: 1,
            pointRadius: 0,
            cubicInterpolationMode: "monotone",
            order: 0,
          },
          {
            data: p.black.map(([x, y]) => ({ x, y })),
            borderColor: "#000",
            borderWidth: 1,
            pointRadius: 0,
            tension: 0,
            order: 1,
          },
        ],
      },
      options: {
        animation: false,
        responsive: false,
        events: [],
        layout: { padding: { left: 0, top: p.plotT - p.top, right: p.left + p.width - p.plotR, bottom: 0 } },
        plugins: {
          legend: { display: false },
          tooltip: { enabled: false },
          arrows: { times: p.arrows || [], top: arrowTopValue, tip: arrowTipValue },
        } as any,
        scales: {
          x: {
            type: "linear",
            min: p.xr.min,
            max: p.xr.max,
            ticks: { stepSize: 1, color: AXIS_COLOR, font: TICK_FONT, padding: 6, maxRotation: 0, autoSkip: false },
            grid,
            border: { display: false },
            title: { display: true, text: xTitle, color: AXIS_COLOR, font: TITLE_FONT, padding: { top: 0, bottom: p.xTitlePad } },
            afterFit: (s: any) => { s.height = xAxisH; },
          },
          y: {
            type: "linear",
            min: p.yr.min,
            max: p.yr.max,
            ticks: { stepSize: 5, color: AXIS_COLOR, font: TICK_FONT, padding: 9 },
            grid,
            border: { display: false },
            title: { display: true, text: yTitle, color: AXIS_COLOR, font: TITLE_FONT, padding: { top: p.yTitlePad, bottom: 0 } },
            afterFit: (s: any) => { s.width = yAxisW; },
          },
        },
      },
      plugins: [framePlugin, arrowPlugin],
    } as any);
    return () => chart.destroy();
  }, []);
  return (
    <canvas
      ref={ref}
      width={p.width}
      height={p.height}
      style={{ position: "absolute", left: p.left, top: p.top, width: p.width, height: p.height }}
    />
  );
}

const headStyle: React.CSSProperties = {
  position: "absolute",
  fontFamily: "'Liberation Serif', 'Times New Roman', serif",
  fontWeight: "bold",
  fontSize: 21,
  lineHeight: "21px",
  color: "#231f20",
  whiteSpace: "nowrap",
};

export default function App() {
  return (
    <div style={{ position: "absolute", left: 0, top: 0, width: 1139, height: 832, background: "#fff", overflow: "hidden" }}>
      <div style={{ ...headStyle, left: 10, top: 6 }}>(a)</div>
      <div style={{ ...headStyle, left: 67, top: 6 }}>Passenger train direct signal</div>
      <div style={{ ...headStyle, left: 577, top: 6 }}>(b)</div>
      <div style={{ ...headStyle, left: 633, top: 6 }}>Passenger train indirect signal</div>
      <div style={{ ...headStyle, left: 10, top: 426 }}>(c)</div>
      <div style={{ ...headStyle, left: 80, top: 426 }}>Freight train - direct signal</div>
      <div style={{ ...headStyle, left: 575, top: 426 }}>(d)</div>
      <div style={{ ...headStyle, left: 645, top: 426 }}>Freight train - indirect signal</div>

      <Panel left={0} top={30} width={570} height={390} plotL={72} plotR={566} plotT={40} plotB={363}
        black={aBlack} red={aRed} xr={passengerX} yr={passengerY} arrows={aArrows} yTitlePad={11} xTitlePad={4} />
      <Panel left={570} top={30} width={569} height={390} plotL={639} plotR={1132} plotT={40} plotB={363}
        black={bBlack} red={bRed} xr={passengerX} yr={passengerY} arrows={bArrows} yTitlePad={7} xTitlePad={4} />
      <Panel left={0} top={430} width={570} height={402} plotL={72} plotR={562} plotT={449} plotB={778}
        black={cBlack} red={cRed} xr={freightX} yr={freightY} yTitlePad={11} xTitlePad={4} />
      <Panel left={570} top={430} width={569} height={402} plotL={639} plotR={1128} plotT={449} plotB={778}
        black={dBlack} red={dRed} xr={freightX} yr={freightY} yTitlePad={7} xTitlePad={4} />
    </div>
  );
}
